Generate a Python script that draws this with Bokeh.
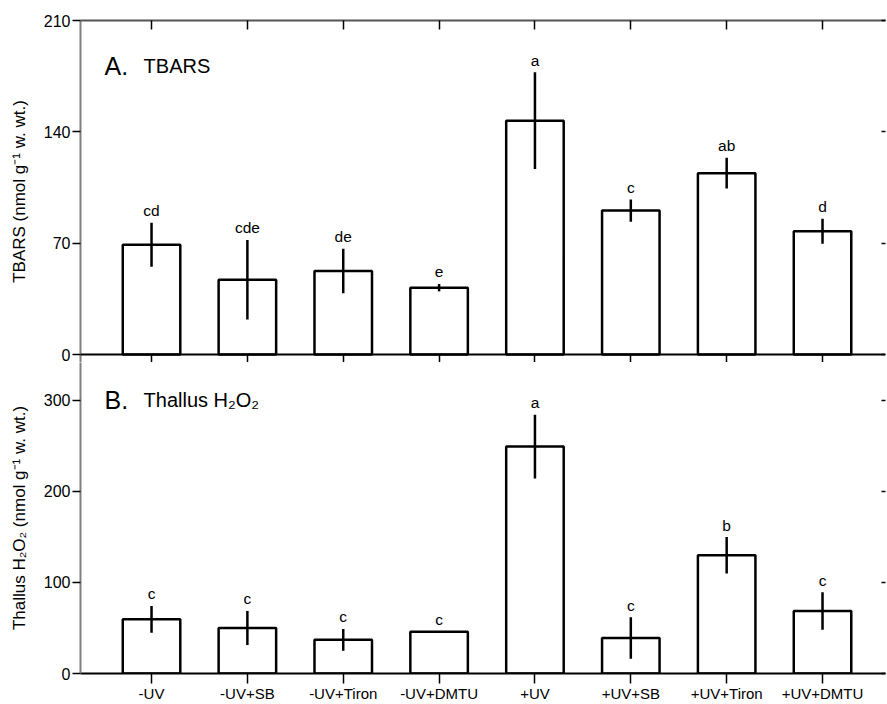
from bokeh.plotting import figure
from bokeh.layouts import column
from bokeh.models import Range1d, FixedTicker, LinearAxis, Label, ColumnDataSource, Span
from bokeh.core.properties import value
from bokeh.embed import file_html
from bokeh.resources import INLINE

# ---- data ----
treatments = ["-UV", "-UV+SB", "-UV+Tiron", "-UV+DMTU", "+UV", "+UV+SB", "+UV+Tiron", "+UV+DMTU"]
tbars_mean = [69, 47, 52.5, 42, 147, 90.5, 114, 77.5]
tbars_err = [13.8, 25, 14, 2.3, 30.4, 7, 9.7, 7.8]
tbars_letters = ["cd", "cde", "de", "e", "a", "c", "ab", "d"]
h2o2_mean = [59.5, 50, 37, 45.8, 249, 39, 129.7, 68.6]
h2o2_err = [14.7, 18.7, 11.9, 0.5, 35, 22.7, 20, 20.5]
h2o2_letters = ["c", "c", "c", "c", "a", "c", "b", "c"]
tbars_ticks = [0, 70, 140, 210]
h2o2_ticks = [0, 100, 200, 300]

FONT = "Liberation Sans"
LEFT_SPINE = "#808080"
xs = list(range(len(treatments)))
x_rng = (-0.741, 7.657)


def style_axis(ax, font_size="16px", line_color="black"):
    ax.axis_line_color = line_color
    ax.axis_line_width = 2
    ax.major_tick_line_color = "black"
    ax.major_tick_line_width = 1.5
    ax.minor_tick_line_color = None
    ax.major_label_text_font = FONT
    ax.major_label_text_font_size = font_size
    ax.major_label_text_color = "black"
    ax.axis_label_text_font = FONT
    ax.axis_label_text_font_style = "normal"
    ax.axis_label_text_color = "black"
    ax.axis_label_text_font_size = "17px"


def ticks_only(ax, tin, tout, labels):
    ax.major_label_overrides = {t: "" for t in labels}
    ax.major_label_standoff = 0
    ax.major_tick_in = tin
    ax.major_tick_out = tout


def panel(means, errs, letters, yticks, yrange, ylabel, h, top_border, bottom_border, with_xlabels):
    p = figure(width=887, height=h, output_backend="svg", toolbar_location=None,
               x_range=Range1d(*x_rng), y_range=Range1d(*yrange),
               x_axis_location="below" if with_xlabels else "above",
               min_border_left=80, min_border_right=2,
               min_border_top=top_border, min_border_bottom=bottom_border)
    p.outline_line_color = None
    p.xgrid.visible = False
    p.ygrid.visible = False
    p.background_fill_color = "white"
    p.border_fill_color = "white"

    xt = FixedTicker(ticks=xs)
    yt = FixedTicker(ticks=yticks)

    xa = p.xaxis[0]
    xa.ticker = xt
    if with_xlabels:
        style_axis(xa, "15px")
        xa.major_label_overrides = {i: t for i, t in enumerate(treatments)}
        xa.major_tick_in = 0
        xa.major_tick_out = 10
        xa.major_label_standoff = 1
    else:
        style_axis(xa, "15px", "#555555")
        ticks_only(xa, 9, 0, xs)
        # ticks of the lower panel's top edge, drawn in the strip under the zero line
        bx = LinearAxis(ticker=xt)
        style_axis(bx)
        ticks_only(bx, 8, 0, xs)
        bx.axis_line_color = None
        p.add_layout(bx, "below")
        p.add_layout(Span(location=0, dimension="width", line_color="black", line_width=2))

    ya = p.yaxis[0]
    ya.ticker = yt
    style_axis(ya, "16px", LEFT_SPINE)
    ya.major_tick_in = 0
    ya.major_tick_out = 8
    ya.major_label_standoff = 2
    ya.axis_label = ylabel
    ya.axis_label_standoff = 12

    ra = LinearAxis(ticker=yt)
    style_axis(ra)
    ticks_only(ra, 4, 0, yticks)
    ra.axis_line_color = None
    p.add_layout(ra, "right")

    lo = [m - e for m, e in zip(means, errs)]
    hi = [m + e for m, e in zip(means, errs)]
    src = ColumnDataSource(dict(x=xs, top=means, lo=lo, hi=hi, letters=letters))
    p.vbar(x="x", top="top", bottom=0, width=0.6, source=src,
           fill_color="white", line_color="black", line_width=2.5)
    p.segment(x0="x", y0="lo", x1="x", y1="hi", source=src,
              line_color="black", line_width=2.5)
    p.text(x="x", y="hi", text="letters", source=src, y_offset=-12,
           text_align="center", text_baseline="alphabetic",
           text_font=value(FONT), text_font_size="15.5px", text_color="black")
    return p


# top panel: 334 px for 210 units, frame extends 8 px below zero
p1 = panel(tbars_mean, tbars_err, tbars_letters, tbars_ticks, (-210 * 8 / 334, 210),
           "TBARS (nmol g\u207b\u00b9 w. wt.)", 362, 20, 0, False)
# lower panel: 321 px for 350 units, its top 8 px sit in the strip of the upper figure
p2 = panel(h2o2_mean, h2o2_err, h2o2_letters, h2o2_ticks, (0, 350 * 313 / 321),
           "Thallus H\u2082O\u2082 (nmol g\u207b\u00b9 w. wt.)", 342, 0, 29, True)

p1.add_layout(Label(x=-0.49, y=181.7, text="A.", text_font=FONT, text_font_size="25px",
                    text_baseline="alphabetic", text_color="black"))
p1.add_layout(Label(x=-0.083, y=181.7, text="TBARS", text_font=FONT, text_font_size="20px",
                    text_baseline="alphabetic", text_color="black"))
p2.add_layout(Label(x=-0.49, y=300, text="B.", text_font=FONT, text_font_size="25px",
                    text_baseline="alphabetic", text_color="black"))
p2.add_layout(Label(x=-0.083, y=300, text="Thallus H\u2082O\u2082", text_font=FONT, text_font_size="20px",
                    text_baseline="alphabetic", text_color="black"))

layout = column(p1, p2, spacing=0)
open("out.html", "w").write(file_html(layout, INLINE))
